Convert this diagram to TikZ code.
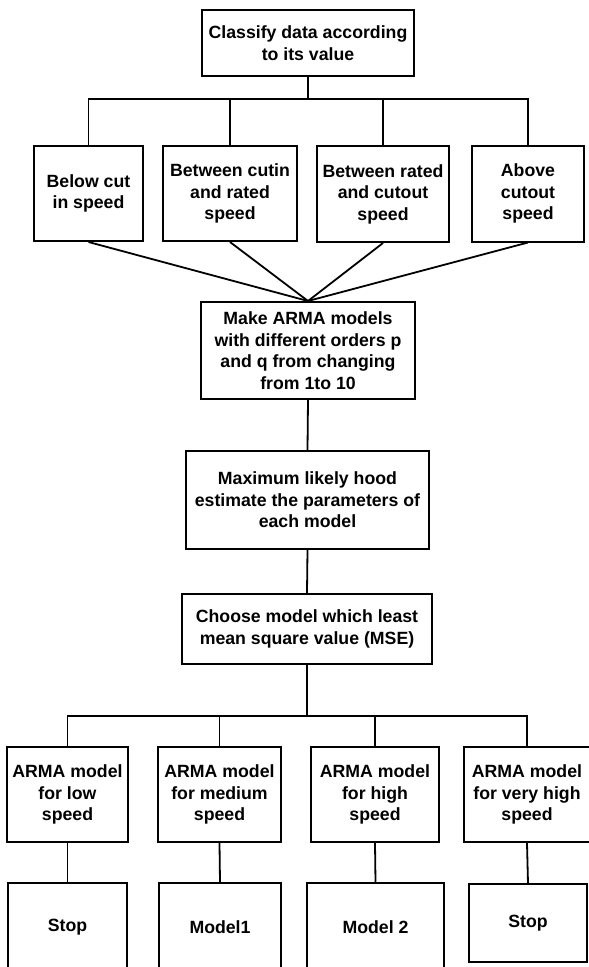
\documentclass[tikz,border=0pt]{standalone}
\usepackage{fontspec}
\setmainfont{Liberation Sans}
\begin{document}
\begin{tikzpicture}[x=1pt,y=-1pt,
  box/.style={draw=black, line width=2pt, rectangle, inner sep=0pt, align=center,
    font=\bfseries\fontsize{17.7}{21.5}\selectfont},
  conn/.style={draw=black, line width=1.8pt}]
\useasboundingbox (0,0) rectangle (589,967);
\fill[white] (0,0) rectangle (589,967);
\clip (0,0) rectangle (589,967);
% top
\node[box, minimum width=212pt, minimum height=66pt] (top) at (308,43) {Classify data according\\to its value};
% row 2
\node[box, minimum width=109pt, minimum height=95pt] (b1) at (88.5,193.5) {Below cut\\in speed};
\node[box, minimum width=134pt, minimum height=95pt] (b2) at (230,193.5) {Between cutin\\and rated\\speed};
\node[box, minimum width=132pt, minimum height=96pt] (b3) at (383,194) {Between rated\\and cutout\\speed};
\node[box, minimum width=112pt, minimum height=96pt] (b4) at (528,193.5) {Above\\cutout\\speed};
% middle chain
\node[box, minimum width=214pt, minimum height=97pt] (make) at (308,350.5) {Make ARMA models\\with different orders p\\and q from changing\\from 1to 10};
\node[box, minimum width=243pt, minimum height=98pt] (mle) at (307.5,500) {Maximum likely hood\\estimate the parameters of\\each model};
\node[box, minimum width=250pt, minimum height=70pt] (choose) at (307,629) {Choose model which least\\mean square value (MSE)};
% row 4
\node[box, minimum width=121pt, minimum height=95pt] (r1) at (67.5,794.5) {ARMA model\\for low\\speed};
\node[box, minimum width=123pt, minimum height=95pt] (r2) at (219.5,794.5) {ARMA model\\for medium\\speed};
\node[box, minimum width=128pt, minimum height=95pt] (r3) at (375,794.5) {ARMA model\\for high\\speed};
\node[box, minimum width=126pt, minimum height=95pt] (r4) at (527,794.5) {ARMA model\\for very high\\speed};
% bottom row
\node[box, minimum width=119pt, minimum height=88pt] (s1) at (67.5,927) {Stop};
\node[box, minimum width=122pt, minimum height=88pt] (s2) at (220,927) {Model1};
\node[box, minimum width=137pt, minimum height=88pt] (s3) at (375.5,927) {Model 2};
\node[box, minimum width=118pt, minimum height=78pt] (s4) at (528,923) {Stop};
% junctions
\coordinate (j1) at (308,99);
\coordinate (j2) at (307,716);
% top tree
\draw[conn] (top.south) -- (j1);
\draw[conn] (b1.north) |- (j1) -| (b4.north);
\draw[conn] (b2.north) -- (b2.north |- j1);
\draw[conn] (b3.north) -- (b3.north |- j1);
% converging
\draw[conn] (b1.south) -- (make.north);
\draw[conn] (b2.south) -- (make.north);
\draw[conn] (b3.south) -- (make.north);
\draw[conn] (b4.south) -- (make.north);
% chain
\draw[conn] (make.south) -- (mle.north);
\draw[conn] (mle.south) -- (choose.north);
% lower tree
\draw[conn] (choose.south) -- (j2);
\draw[conn] (r1.north) |- (j2) -| (r4.north);
\draw[conn] (r2.north) -- (r2.north |- j2);
\draw[conn] (r3.north) -- (r3.north |- j2);
% to bottom
\draw[conn] (r1.south) -- (s1.north);
\draw[conn] (r2.south) -- (s2.north);
\draw[conn] (r3.south) -- (s3.north);
\draw[conn] (r4.south) -- (s4.north);
\end{tikzpicture}
\end{document}
